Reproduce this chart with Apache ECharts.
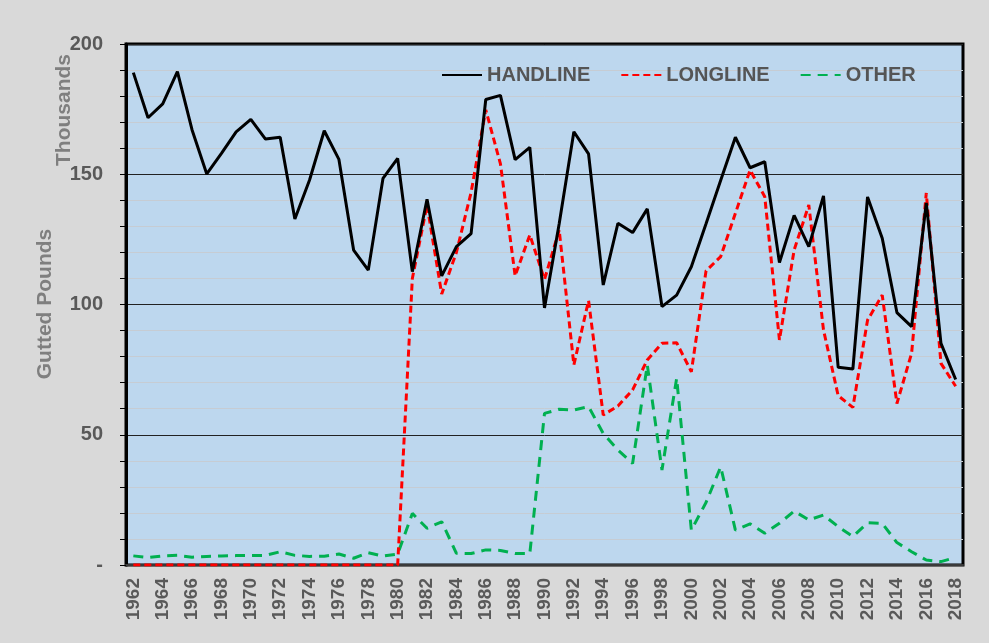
<!DOCTYPE html>
<html>
<head>
<meta charset="utf-8">
<script src="https://cdn.jsdelivr.net/npm/echarts@6/dist/echarts.min.js"></script>
<style>
html,body{margin:0;padding:0;background:#d9d9d9;}
#chart{width:989px;height:643px;}
</style>
</head>
<body>
<div id="chart"></div>
<script>
var years = [];
for (var y = 1962; y <= 2018; y++) years.push(String(y));

var handline = [189, 171.7, 177, 189.4, 167, 150.1, 158, 166.3, 171.1, 163.5,
  164.2, 132.8, 147.8, 166.7, 155.7, 120.9, 113.2, 148.4, 156.1, 112.6,
  140.4, 111, 122.2, 127.2, 178.7, 180.3, 155.6, 160.3, 98.7, 131,
  166.3, 157.8, 107.5, 131.2, 127.6, 136.7, 99.2, 103.6, 114.5, 131,
  147.7, 164.2, 152.5, 154.8, 116.1, 134.2, 122.2, 141.7, 75.9, 75.2,
  141.3, 125.4, 96.9, 91.5, 139, 85.1, 71.2];

var longline = [0, 0, 0, 0, 0, 0, 0, 0, 0, 0,
  0, 0, 0, 0, 0, 0, 0, 0, 0, 110,
  138.2, 104, 120, 143, 174.7, 154, 111, 126.7, 109.6, 128.6,
  76.8, 101.5, 57.6, 61, 67.2, 78.7, 85.1, 85.3, 74.2, 112.9,
  118.4, 135, 151.6, 141.4, 86.4, 120.9, 138.2, 90.2, 65, 60.5,
  94, 103.6, 62, 81.3, 142.8, 77.4, 68.6];

var other = [3.5, 2.9, 3.5, 3.7, 3.0, 3.3, 3.5, 3.6, 3.6, 3.7,
  5.1, 3.7, 3.3, 3.4, 4.2, 2.6, 4.7, 3.4, 4.2, 19.8,
  14.1, 16.6, 4.5, 4.4, 5.8, 5.6, 4.4, 4.4, 58.2, 59.8,
  59.5, 60.8, 50.5, 44.1, 39, 76.8, 36.5, 71.7, 13.4, 24,
  37.7, 13.4, 15.8, 12.2, 16, 20.7, 17.3, 19.2, 14.7, 10.9,
  16.2, 16, 8.6, 5.1, 1.9, 1.3, 2.9];

var seriesNames = ['HANDLINE', 'LONGLINE', 'OTHER'];
var yTickLabels = {0: '-', 50: '50', 100: '100', 150: '150', 200: '200'};

var FONT = '"Liberation Sans", Arial, sans-serif';
var chart = echarts.init(document.getElementById('chart'), null, {renderer: 'canvas'});

chart.setOption({
  backgroundColor: '#d9d9d9',
  animation: false,
  textStyle: {fontFamily: FONT},
  grid: {
    left: 126, right: 26, top: 44, bottom: 78,
    show: true, backgroundColor: '#bdd7ee',
    borderColor: '#000', borderWidth: 3
  },
  legend: {
    data: seriesNames,
    left: 436, top: 60,
    itemWidth: 40, itemHeight: 16, itemGap: 30,
    itemStyle: {opacity: 0},
    textStyle: {fontSize: 20, fontWeight: 'bold', color: '#555', fontFamily: FONT}
  },
  graphic: [
    {type: 'text', x: 45, y: 304, rotation: Math.PI / 2,
      style: {text: 'Gutted Pounds', font: 'bold 21px ' + FONT, fill: '#7f7f7f',
        textAlign: 'center', textVerticalAlign: 'middle'}},
    {type: 'text', x: 64, y: 110, rotation: Math.PI / 2,
      style: {text: 'Thousands', font: 'bold 21px ' + FONT, fill: '#7f7f7f',
        textAlign: 'center', textVerticalAlign: 'middle'}}
  ],
  xAxis: {
    type: 'category',
    data: years,
    boundaryGap: true,
    axisLine: {show: true, lineStyle: {color: '#3a3a3a', width: 2}},
    axisTick: {show: false},
    axisLabel: {
      interval: 1, rotate: 90, margin: 13,
      fontSize: 19, fontWeight: 'bold', color: '#595959', fontFamily: FONT
    },
    splitLine: {show: false}
  },
  yAxis: {
    type: 'value',
    min: 0, max: 200, interval: 10,
    axisLine: {show: true, lineStyle: {color: '#000', width: 3}},
    axisTick: {show: true, length: 6, lineStyle: {color: '#000', width: 1}},
    axisLabel: {
      margin: 23, fontSize: 20, fontWeight: 'bold', color: '#595959', fontFamily: FONT,
      formatter: function (v) { return yTickLabels[v] !== undefined ? yTickLabels[v] : ''; }
    },
    splitLine: {show: true, lineStyle: {
      color: ['#222', '#c6ccd3', '#c6ccd3', '#c6ccd3', '#c6ccd3'], width: 1}}
  },
  series: [
    {name: 'HANDLINE', type: 'line', data: handline, symbol: 'none',
      lineStyle: {color: '#000', width: 3, type: 'solid'}, itemStyle: {color: '#000'}, z: 5},
    {name: 'LONGLINE', type: 'line', data: longline, symbol: 'none',
      lineStyle: {color: '#ff0000', width: 3, type: [7, 4]}, itemStyle: {color: '#ff0000'}, z: 4},
    {name: 'OTHER', type: 'line', data: other, symbol: 'none',
      lineStyle: {color: '#00b050', width: 3, type: [10, 7]}, itemStyle: {color: '#00b050'}, z: 3}
  ]
});
</script>
</body>
</html>
